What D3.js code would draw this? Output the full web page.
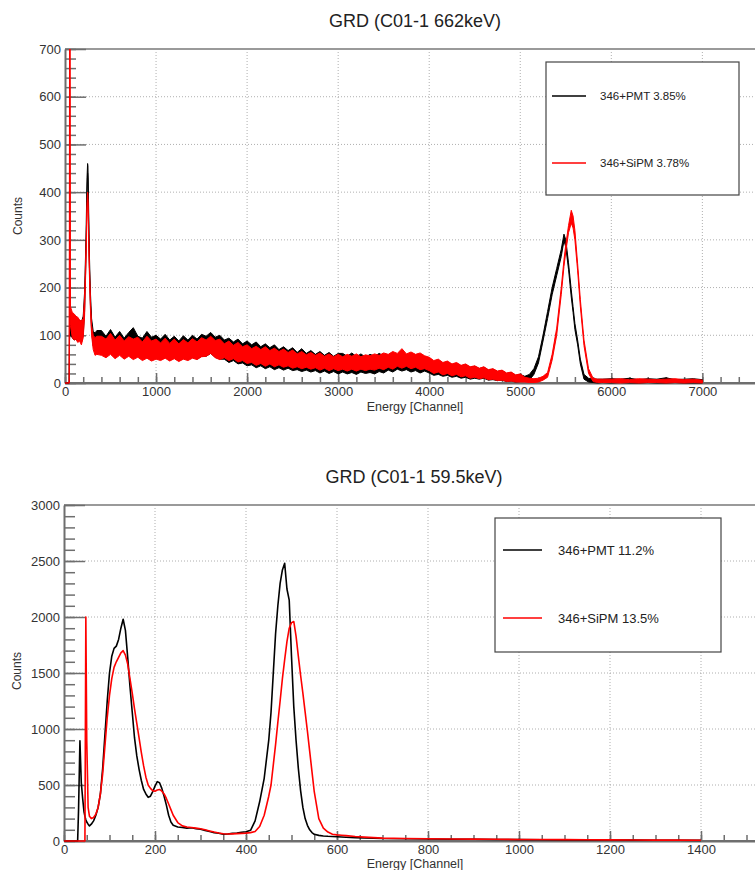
<!DOCTYPE html>
<html>
<head>
<meta charset="utf-8">
<script src="https://cdn.jsdelivr.net/npm/d3@7"></script>
<style>
  body { margin: 0; background: #fff; }
  svg { display: block; font-family: "Liberation Sans", Arial, Helvetica, sans-serif; }
</style>
</head>
<body>
<svg id="graph" width="755" height="870"></svg>
<script>
// ---- 662 keV spectrum (noisy histogram, kept as low/high envelope per channel) ----
const topChannels = [
  0, 30, 42, 46, 50, 54, 60, 80, 100, 120, 140, 160, 180, 200, 215, 230, 242, 248, 252, 258, 266, 278, 292, 310, 330, 350,
  400, 450, 500, 550, 600, 650, 700, 750, 800, 850, 900, 950, 1000,
  1050, 1100, 1150, 1200, 1250, 1300, 1350, 1400, 1450, 1500,
  1550, 1600, 1650, 1700,
  1750, 1800, 1850, 1900, 1950, 2000,
  2050, 2100, 2150, 2200, 2250, 2300, 2350, 2400, 2450, 2500,
  2550, 2600, 2650, 2700, 2750, 2800, 2850, 2900, 2950, 3000,
  3050, 3100, 3150, 3200, 3250, 3300, 3350, 3400, 3450, 3500,
  3550, 3600, 3650, 3700, 3750, 3800, 3850, 3900, 3950,
  4000, 4050, 4100, 4150, 4200, 4250, 4300, 4350, 4400, 4450, 4500,
  4550, 4600, 4650, 4700, 4750, 4800, 4850, 4900, 4950, 5000,
  5050, 5100, 5150, 5200, 5250, 5300, 5350, 5400, 5450, 5480, 5500, 5530, 5560, 5580, 5600, 5630, 5660, 5700, 5750, 5800, 5850, 5900,
  6000, 6100, 6200, 6300, 6400, 6500, 6600, 6700, 6800, 6900, 7000
];
const pmtHigh662 = [
  0, 0, 0, 0, 160, 150, 148, 145, 140, 138, 135, 130, 128, 140, 190, 300, 430, 460, 455, 385, 285, 195, 135, 108, 105, 110,
  110, 98, 112, 96, 108, 94, 106, 116, 98, 94, 108, 96, 100,
  92, 102, 90, 98, 88, 99, 90, 100, 92, 102,
  98, 106, 96, 100,
  90, 94, 86, 92, 82, 88,
  80, 86, 76, 82, 74, 80, 70, 76, 68, 74,
  64, 72, 62, 68, 60, 66, 58, 64, 56, 62,
  62, 56, 63, 55, 61, 54, 60, 56, 62, 57,
  56, 62, 57, 64, 58, 61, 56, 60, 54,
  52, 44, 48, 41, 44, 38, 41, 36, 38, 33, 35,
  30, 33, 27, 29, 24, 26, 20, 22, 16, 18,
  14, 18, 30, 55, 100, 150, 200, 240, 280, 312, 300, 252, 195, 160, 125, 90, 50, 18, 10, 8, 8, 8,
  9, 8, 10, 7, 9, 8, 11, 7, 8, 9, 7
];
const pmtLow662 = [
  0, 0, 0, 0, 90, 100, 100, 95, 90, 92, 88, 90, 85, 100, 150, 260, 400, 440, 430, 360, 260, 170, 110, 78, 70, 72,
  70, 62, 68, 60, 66, 58, 62, 56, 60, 54, 58, 52, 56,
  50, 55, 48, 54, 47, 53, 49, 55, 50, 56,
  56, 62, 54, 50,
  50, 43, 47, 40, 42, 36,
  38, 32, 36, 30, 34, 28, 32, 27, 31, 26,
  28, 24, 27, 23, 26, 21, 25, 20, 24, 19,
  23, 19, 22, 18, 23, 20, 22, 19, 24, 21,
  27, 23, 29, 25, 28, 23, 26, 21, 25,
  21, 16, 18, 14, 16, 12, 14, 10, 12, 8, 10,
  8, 10, 6, 7, 5, 6, 3, 4, 2, 3,
  4, 6, 18, 42, 88, 135, 185, 225, 265, 298, 285, 238, 180, 148, 112, 80, 40, 8, 2, 1, 0, 1,
  0, 1, 0, 0, 1, 0, 0, 1, 0, 0, 0
];
const sipmHigh662 = [
  0, 0, 0, 0, 720, 720, 160, 148, 145, 140, 138, 132, 130, 135, 180, 280, 380, 400, 395, 340, 260, 180, 120, 100, 95, 98,
  98, 92, 104, 90, 100, 88, 97, 92, 96, 86, 98, 88, 92,
  84, 94, 83, 92, 82, 91, 84, 93, 86, 95,
  90, 98, 89, 92,
  82, 88, 79, 85, 76, 80,
  72, 77, 70, 76, 68, 73, 66, 71, 64, 69,
  61, 66, 59, 64, 58, 63, 56, 61, 55, 60,
  55, 60, 56, 61, 55, 59, 57, 61, 58, 63,
  60, 66, 62, 72, 61, 65, 60, 63, 57,
  54, 47, 50, 43, 46, 40, 43, 37, 40, 34, 36,
  31, 34, 28, 30, 25, 27, 21, 23, 17, 19,
  12, 10, 9, 10, 14, 22, 60, 115, 200, 258, 290, 330, 362, 350, 320, 250, 175, 90, 30, 10, 8, 8,
  8, 9, 7, 9, 8, 7, 8, 9, 7, 8, 6
];
const sipmLow662 = [
  0, 0, 0, 0, 330, 700, 120, 95, 90, 92, 85, 88, 80, 95, 140, 250, 355, 385, 375, 320, 240, 160, 100, 70, 58, 60,
  58, 53, 60, 51, 58, 50, 56, 49, 54, 47, 52, 46, 50,
  47, 52, 46, 51, 45, 50, 47, 52, 49, 55,
  56, 62, 53, 49,
  53, 47, 51, 44, 47, 41,
  43, 37, 41, 35, 40, 34, 38, 33, 36, 31,
  34, 30, 33, 29, 32, 27, 31, 26, 30, 26,
  29, 25, 29, 25, 29, 26, 29, 27, 31, 28,
  33, 29, 35, 31, 35, 30, 33, 28, 30,
  26, 20, 23, 17, 20, 15, 18, 13, 15, 10, 12,
  9, 11, 7, 8, 5, 6, 3, 4, 2, 2,
  2, 1, 1, 2, 6, 12, 48, 100, 185, 244, 275, 315, 335, 325, 300, 235, 160, 78, 20, 3, 1, 1,
  1, 0, 1, 0, 1, 1, 0, 1, 0, 1, 0
];
const topXTicks = [0, 1000, 2000, 3000, 4000, 5000, 6000, 7000];
const topYTicks = [0, 100, 200, 300, 400, 500, 600, 700];

// ---- 59.5 keV spectrum ----
const bottomChannels = [
  0, 30, 32, 35, 38, 41, 44, 46, 48, 50,
  53, 56, 60, 65, 70, 75, 80, 85, 90, 95,
  100, 105, 110, 115, 120, 125, 130, 135, 140, 145,
  150, 155, 160, 165, 170, 175, 180, 185, 190, 195,
  200, 205, 210, 215, 220, 225, 230, 235, 240,
  250, 260, 270, 280, 290, 300, 310, 320, 330, 340, 350, 360, 370, 380, 390, 400, 410,
  420, 430, 440, 450,
  455, 460, 465, 470, 475, 480, 485, 490, 495, 500, 505, 510, 515, 520, 525, 530, 535, 540, 545,
  550, 560, 570, 580, 590, 600, 610, 620,
  640, 660, 680, 700,
  750, 800, 850, 900, 950, 1000, 1050, 1100, 1150, 1200, 1250, 1300, 1350, 1400
];
const pmtCounts595 = [
  0, 0, 280, 895, 520, 380, 260, 220, 190, 170,
  150, 135, 150, 180, 230, 300, 420, 650, 950, 1250,
  1500, 1650, 1720, 1740, 1800, 1900, 1980, 1880, 1640, 1380,
  1150, 920, 760, 640, 540, 460, 420, 390, 400, 440,
  490, 530, 520, 470, 400, 320, 230, 170, 140,
  125, 120, 115, 118, 110, 105, 95, 85, 75, 70, 60, 62, 68, 72, 78, 82, 95,
  180, 350, 560, 900,
  1150, 1500, 1850, 2100, 2300, 2420, 2480, 2250, 2150, 1650, 1200, 900, 650, 450, 300, 200, 140, 100, 75,
  60, 50, 45, 42, 40, 38, 36, 34,
  30, 28, 25, 22,
  20, 18, 16, 15, 14, 12, 11, 10, 9, 9, 8, 7, 7, 6
];
const sipmCounts595 = [
  0, 0, 0, 0, 0, 0, 0, 0, 2000, 900,
  300, 220, 200, 210, 240, 300, 420, 600, 850, 1100,
  1300, 1450, 1550, 1600, 1640, 1680, 1700, 1660, 1580, 1450,
  1320, 1180, 1050, 920, 790, 670, 570, 500, 470, 450,
  445, 455, 460, 445, 420, 380, 330, 280, 230,
  165, 135, 125, 120, 115, 110, 100, 90, 80, 72, 65, 62, 64, 66, 68, 70, 75,
  85, 130, 230, 400,
  500, 680, 860, 1060, 1250, 1450, 1620, 1780, 1900, 1950, 1960, 1830, 1650, 1480, 1320, 1150, 980, 800, 620,
  440, 200, 115, 80, 60, 55, 52, 48,
  40, 35, 30, 26,
  22, 20, 18, 17, 15, 14, 13, 12, 11, 10, 9, 8, 8, 7
];
const bottomXTicks = [0, 200, 400, 600, 800, 1000, 1200, 1400];
const bottomYTicks = [0, 500, 1000, 1500, 2000, 2500, 3000];

const legend662 = ['346+PMT 3.85%', '346+SiPM 3.78%'];
const legend595 = ['346+PMT 11.2%', '346+SiPM 13.5%'];
const seriesColors = ['#000000', '#ff0000'];

/**
 * Draws one ROOT style histogram frame: grid, inward ticks, title, labels.
 * @returns {{x: Function, y: Function, plot: Object}} scales and clipped data group
 */
function drawFrame(svg, p) {
  let x = d3.scaleLinear().domain(p.xDomain).range([p.left, p.right]),
    y = d3.scaleLinear().domain(p.yDomain).range([p.bottom, p.top]),
    g = svg.append('g'),
    fmt = d3.format('d');

  // dotted grid
  g.append('g')
    .selectAll('line')
    .data(p.xTicks.filter(d => d > 0))
    .join('line')
    .attr('x1', d => x(d)).attr('x2', d => x(d))
    .attr('y1', p.top).attr('y2', p.bottom)
    .attr('stroke', '#9a9a9a')
    .attr('stroke-width', 0.8)
    .attr('stroke-dasharray', '1,2');
  g.append('g')
    .selectAll('line')
    .data(p.yTicks.filter(d => d > 0))
    .join('line')
    .attr('x1', p.left).attr('x2', 755)
    .attr('y1', d => y(d)).attr('y2', d => y(d))
    .attr('stroke', '#9a9a9a')
    .attr('stroke-width', 0.8)
    .attr('stroke-dasharray', '1,2');

  // top frame line
  g.append('line')
    .attr('x1', p.left).attr('x2', 755)
    .attr('y1', p.top).attr('y2', p.top)
    .attr('stroke', '#9a9a9a')
    .attr('stroke-width', 2);

  // minor ticks
  g.append('g')
    .attr('transform', `translate(${p.left},0)`)
    .call(d3.axisLeft(y).tickValues(d3.range(p.yDomain[0], p.yDomain[1] + 1, p.yMinor))
      .tickSizeInner(-11).tickSizeOuter(0).tickFormat(''))
    .call(a => a.select('.domain').remove());
  g.append('g')
    .attr('transform', `translate(0,${p.bottom})`)
    .call(d3.axisBottom(x).tickValues(d3.range(0, p.xDomain[1], p.xMinor))
      .tickSizeInner(-6).tickSizeOuter(0).tickFormat(''))
    .call(a => a.select('.domain').remove());

  // major ticks and labels
  g.append('g')
    .attr('transform', `translate(${p.left},0)`)
    .call(d3.axisLeft(y).tickValues(p.yTicks).tickFormat(fmt)
      .tickSizeInner(-21).tickSizeOuter(0).tickPadding(4));
  g.append('g')
    .attr('transform', `translate(0,${p.bottom})`)
    .call(d3.axisBottom(x).tickValues(p.xTicks).tickFormat(fmt)
      .tickSizeInner(-10).tickSizeOuter(0).tickPadding(4));

  g.selectAll('.tick line').attr('stroke', '#6e6e6e').attr('stroke-width', 1.5);
  g.selectAll('.domain').attr('stroke', '#6e6e6e').attr('stroke-width', 2);
  g.selectAll('.tick text')
    .attr('fill', '#333')
    .style('font-size', '13px')
    .style('font-family', '"Liberation Sans", Arial, sans-serif');
  // extend bottom axis line to the picture edge
  g.append('line')
    .attr('x1', p.left).attr('x2', 755)
    .attr('y1', p.bottom).attr('y2', p.bottom)
    .attr('stroke', '#6e6e6e')
    .attr('stroke-width', 2);

  // title and axis titles
  svg.append('text')
    .attr('x', p.titleX).attr('y', p.titleY)
    .attr('text-anchor', 'middle')
    .attr('fill', '#222')
    .style('font-size', '18px')
    .text(p.title);
  svg.append('text')
    .attr('transform', `translate(${p.yLabelX},${p.yLabelY}) rotate(-90)`)
    .attr('text-anchor', 'middle')
    .attr('fill', '#333')
    .style('font-size', '12px')
    .text('Counts');
  svg.append('text')
    .attr('x', 415).attr('y', p.xLabelY)
    .attr('text-anchor', 'middle')
    .attr('fill', '#333')
    .style('font-size', '12.5px')
    .text('Energy [Channel]');

  svg.append('clipPath')
    .attr('id', p.id)
    .append('rect')
    .attr('x', p.left).attr('y', p.top)
    .attr('width', 755 - p.left).attr('height', p.bottom - p.top + 1);

  let plot = svg.append('g').attr('clip-path', `url(#${p.id})`);
  return { x, y, plot };
}

function drawLegend(svg, box, labels) {
  let g = svg.append('g');
  g.append('rect')
    .attr('x', box.x).attr('y', box.y)
    .attr('width', box.w).attr('height', box.h)
    .attr('fill', '#fff')
    .attr('stroke', '#444')
    .attr('stroke-width', 1.2);
  labels.forEach((label, i) => {
    let ly = box.rows[i];
    g.append('line')
      .attr('x1', box.lineX0).attr('x2', box.lineX1)
      .attr('y1', ly).attr('y2', ly)
      .attr('stroke', seriesColors[i])
      .attr('stroke-width', 1.5);
    g.append('text')
      .attr('x', box.textX).attr('y', ly)
      .attr('dy', '0.35em')
      .attr('fill', '#222')
      .style('font-size', box.fontSize)
      .text(label);
  });
}

let svg = d3.select('#graph');
svg.append('rect').attr('width', 755).attr('height', 870).attr('fill', '#fff');

// top panel: 662 keV
let panel662 = drawFrame(svg, {
  id: 'clip662',
  left: 65, right: 757, top: 49, bottom: 383,
  xDomain: [0, 7600], yDomain: [0, 700],
  xTicks: topXTicks, yTicks: topYTicks,
  xMinor: 200, yMinor: 20,
  title: 'GRD (C01-1 662keV)', titleX: 415, titleY: 27,
  yLabelX: 22, yLabelY: 216, xLabelY: 411
});

let bands662 = [[pmtLow662, pmtHigh662], [sipmLow662, sipmHigh662]];
bands662.forEach(([lo, hi], i) => {
  let pts = topChannels.map((c, k) => ({ c, lo: lo[k], hi: hi[k] }))
    .filter(d => d.lo !== undefined && d.hi !== undefined);
  let area = d3.area()
    .x(d => panel662.x(d.c))
    .y0(d => panel662.y(d.lo))
    .y1(d => panel662.y(d.hi));
  panel662.plot.append('path')
    .datum(pts)
    .attr('d', area)
    .attr('fill', seriesColors[i])
    .attr('stroke', seriesColors[i])
    .attr('stroke-width', 1)
    .attr('stroke-linejoin', 'round');
});

drawLegend(svg, {
  x: 546, y: 62, w: 193, h: 133,
  rows: [96, 163], lineX0: 552, lineX1: 586, textX: 600, fontSize: '11.5px'
}, legend662);

// bottom panel: 59.5 keV
let panel595 = drawFrame(svg, {
  id: 'clip595',
  left: 64, right: 755.6, top: 505, bottom: 841,
  xDomain: [0, 1520], yDomain: [0, 3000],
  xTicks: bottomXTicks, yTicks: bottomYTicks,
  xMinor: 50, yMinor: 100,
  title: 'GRD (C01-1 59.5keV)', titleX: 414, titleY: 483,
  yLabelX: 21, yLabelY: 671, xLabelY: 868
});

[pmtCounts595, sipmCounts595].forEach((counts, i) => {
  let line = d3.line()
    .defined((d, k) => counts[k] !== undefined)
    .x((d, k) => panel595.x(bottomChannels[k]))
    .y((d, k) => panel595.y(counts[k]));
  panel595.plot.append('path')
    .datum(bottomChannels)
    .attr('d', line)
    .attr('fill', 'none')
    .attr('stroke', seriesColors[i])
    .attr('stroke-width', 1.6)
    .attr('stroke-linejoin', 'round');
});

drawLegend(svg, {
  x: 495, y: 518, w: 226, h: 134,
  rows: [550, 618], lineX0: 503, lineX1: 542, textX: 558, fontSize: '13px'
}, legend595);
</script>
</body>
</html>
